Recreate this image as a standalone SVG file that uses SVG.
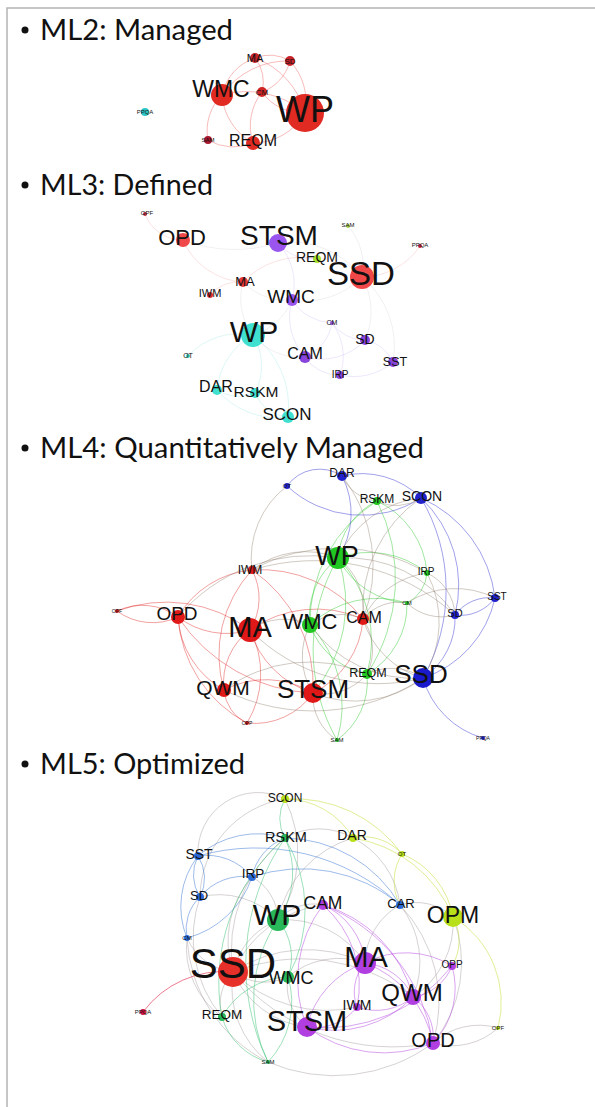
<svg xmlns="http://www.w3.org/2000/svg" width="595" height="1107" viewBox="0 0 595 1107">
<style>
.frame{fill:none;stroke:#b4b4b4;stroke-width:1.5}
.t{font-family:"Lato","Open Sans",sans-serif;font-size:28px;fill:#111}
.l{font-family:"Liberation Sans",Arial,sans-serif;fill:#111;text-anchor:middle}
.e path{fill:none;stroke-width:0.8}
.e2 path{stroke:#f07070;stroke-opacity:.6}
.e3 path{stroke-width:1;stroke-opacity:.22}
.c3r{stroke:#f08080}.c3p{stroke:#b090f0}.c3c{stroke:#60dcd4}.c3x{stroke:#c4b4c8}
.r4{stroke:#e02828;stroke-opacity:.55}.g4{stroke:#28c828;stroke-opacity:.55}.b4{stroke:#2828d0;stroke-opacity:.55}.x4{stroke:#8c7a68;stroke-opacity:.5}
.p5{stroke:#b040e0;stroke-opacity:.6;stroke-width:1.1}.g5{stroke:#30c070;stroke-opacity:.6}.b5{stroke:#3070d0;stroke-opacity:.6}.y5{stroke:#c8e040;stroke-opacity:.7}.x5{stroke:#9c8f90;stroke-opacity:.5}.rd5{stroke:#e03050;stroke-opacity:.8}
</style>

<!-- slide frame -->
<path class="frame" d="M7 1107V8H595"/>

<!-- titles -->
<g id="title-ml2"><circle cx="25" cy="30" r="3.5" fill="#111"/><text class="t" x="40" y="40" textLength="193" lengthAdjust="spacingAndGlyphs">ML2: Managed</text></g>
<g id="title-ml3"><circle cx="25" cy="185" r="3.5" fill="#111"/><text class="t" x="40" y="195" textLength="173" lengthAdjust="spacingAndGlyphs">ML3: Defined</text></g>
<g id="title-ml4"><circle cx="25" cy="448" r="3.5" fill="#111"/><text class="t" x="40" y="458" textLength="384" lengthAdjust="spacingAndGlyphs">ML4: Quantitatively Managed</text></g>
<g id="title-ml5"><circle cx="25" cy="764" r="3.5" fill="#111"/><text class="t" x="40" y="774" textLength="205" lengthAdjust="spacingAndGlyphs">ML5: Optimized</text></g>

<!-- ML2 connectors -->
<g id="edges-ml2" class="e e2">
<path d="M255 58A50 50 0 0 0 222 95"/>
<path d="M255 58A40 40 0 0 1 262 92"/>
<path d="M255 58A80 80 0 0 1 305 113"/>
<path d="M255 58A40 40 0 0 1 290 61"/>
<path d="M290 61A45 45 0 0 1 262 92"/>
<path d="M290 61A60 60 0 0 1 305 113"/>
<path d="M290 61A80 80 0 0 0 222 95"/>
<path d="M262 92A50 50 0 0 0 305 113"/>
<path d="M222 95A50 50 0 0 0 208 140"/>
<path d="M222 95A60 60 0 0 0 253 143"/>
<path d="M262 92A55 55 0 0 0 253 143"/>
<path d="M305 113A60 60 0 0 1 253 143"/>
<path d="M208 140A50 50 0 0 0 253 143"/>
<path d="M222 95A90 90 0 0 1 305 113"/>
</g>

<!-- ML2 nodes -->
<g id="ml2-nodes">
<g id="ml2-ma"><circle cx="255" cy="58" r="5" fill="#c8222a"/><text class="l" x="255" y="62" font-size="11">MA</text></g>
<g id="ml2-sd"><circle cx="290" cy="61" r="5" fill="#c8222a"/><text class="l" x="290" y="64" font-size="8">SD</text></g>
<g id="ml2-wmc"><circle cx="222" cy="95" r="11" fill="#e02a22"/><text class="l" x="221" y="97" font-size="23">WMC</text></g>
<g id="ml2-cm"><circle cx="262" cy="92" r="5" fill="#d02525"/><text class="l" x="262" y="95" font-size="8">CM</text></g>
<g id="ml2-wp"><circle cx="305" cy="113" r="19" fill="#e02a22"/><text class="l" x="305" y="122" font-size="36">WP</text></g>
<g id="ml2-ppqa"><circle cx="145" cy="112" r="4" fill="#2ec4c4"/><text class="l" x="145" y="114" font-size="6">PPQA</text></g>
<g id="ml2-sam"><circle cx="208" cy="140" r="4" fill="#a8182e"/><text class="l" x="208" y="142" font-size="6">SAM</text></g>
<g id="ml2-reqm"><circle cx="253" cy="143" r="7" fill="#e02a22"/><text class="l" x="253" y="146" font-size="16">REQM</text></g>
</g>

<!-- ML3 connectors -->
<g id="edges-ml3" class="e e3">
<path class="c3r" d="M145 214A40 40 0 0 0 183 240"/>
<path class="c3x" d="M183 240A150 150 0 0 0 278 243"/>
<path class="c3r" d="M183 240A70 70 0 0 0 243 282"/>
<path class="c3r" d="M243 282A40 40 0 0 0 210 295"/>
<path class="c3r" d="M243 282A80 80 0 0 1 317 259"/>
<path class="c3x" d="M243 282A60 60 0 0 0 292 300"/>
<path class="c3p" d="M278 243A45 45 0 0 0 317 259"/>
<path class="c3p" d="M278 243A60 60 0 0 1 292 300"/>
<path class="c3x" d="M317 259A50 50 0 0 1 362 277"/>
<path class="c3x" d="M362 277A80 80 0 0 1 292 300"/>
<path class="c3r" d="M362 277A70 70 0 0 0 420 246"/>
<path class="c3x" d="M362 277A60 60 0 0 0 348 226"/>
<path class="c3x" d="M362 277A70 70 0 0 1 365 340"/>
<path class="c3p" d="M292 300A50 50 0 0 0 332 323"/>
<path class="c3x" d="M292 300A60 60 0 0 1 253 335"/>
<path class="c3p" d="M332 323A40 40 0 0 0 365 340"/>
<path class="c3p" d="M332 323A45 45 0 0 1 305 357"/>
<path class="c3p" d="M332 323A55 55 0 0 1 340 375"/>
<path class="c3p" d="M365 340A40 40 0 0 1 393 362"/>
<path class="c3p" d="M340 375A60 60 0 0 0 393 362"/>
<path class="c3p" d="M340 375A40 40 0 0 1 305 357"/>
<path class="c3c" d="M253 335A70 70 0 0 0 217 390"/>
<path class="c3c" d="M253 335A60 60 0 0 1 255 393"/>
<path class="c3c" d="M253 335A90 90 0 0 1 288 417"/>
<path class="c3c" d="M217 390A40 40 0 0 0 255 393"/>
<path class="c3c" d="M255 393A40 40 0 0 0 288 417"/>
<path class="c3c" d="M217 390A80 80 0 0 0 288 417"/>
<path class="c3c" d="M253 335A70 70 0 0 0 188 356"/>
<path class="c3x" d="M253 335A60 60 0 0 0 305 357"/>
<path class="c3x" d="M253 335A60 60 0 0 1 243 282"/>
<path class="c3x" d="M362 277A90 90 0 0 0 278 243"/>
<path class="c3p" d="M365 340A60 60 0 0 1 305 357"/>
<path class="c3p" d="M292 300A60 60 0 0 0 305 357"/>
<path class="c3x" d="M393 362A90 90 0 0 0 362 277"/>
</g>

<!-- ML3 nodes -->
<g id="ml3-nodes">
<g id="ml3-opf"><circle cx="145" cy="214" r="2" fill="#c03040"/><text class="l" x="147" y="215" font-size="6">OPF</text></g>
<g id="ml3-opd"><circle cx="183" cy="240" r="7" fill="#f04848"/><text class="l" x="182" y="245" font-size="22">OPD</text></g>
<g id="ml3-stsm"><circle cx="278" cy="243" r="9" fill="#9a55ee"/><text class="l" x="279" y="245" font-size="28">STSM</text></g>
<g id="ml3-sam"><circle cx="348" cy="226" r="2" fill="#a8d040"/><text class="l" x="348" y="227" font-size="6">SAM</text></g>
<g id="ml3-ppqa"><circle cx="420" cy="246" r="2" fill="#c02040"/><text class="l" x="420" y="247" font-size="6">PPQA</text></g>
<g id="ml3-reqm"><circle cx="317" cy="259" r="4" fill="#a8e030"/><text class="l" x="317" y="262" font-size="14">REQM</text></g>
<g id="ml3-ssd"><circle cx="362" cy="277" r="12" fill="#f04848"/><text class="l" x="361" y="285" font-size="33">SSD</text></g>
<g id="ml3-ma"><circle cx="243" cy="282" r="5" fill="#e83838"/><text class="l" x="245" y="286" font-size="13">MA</text></g>
<g id="ml3-iwm"><circle cx="210" cy="295" r="3" fill="#e03030"/><text class="l" x="210" y="297" font-size="11">IWM</text></g>
<g id="ml3-wmc"><circle cx="292" cy="300" r="6" fill="#9a55ee"/><text class="l" x="291" y="303" font-size="19">WMC</text></g>
<g id="ml3-wp"><circle cx="253" cy="335" r="12" fill="#40e0d0"/><text class="l" x="254" y="342" font-size="30">WP</text></g>
<g id="ml3-cm"><circle cx="332" cy="323" r="2" fill="#9a55ee"/><text class="l" x="332" y="325" font-size="7">CM</text></g>
<g id="ml3-sd"><circle cx="365" cy="340" r="5" fill="#8844dd"/><text class="l" x="365" y="344" font-size="14">SD</text></g>
<g id="ml3-cam"><circle cx="305" cy="357" r="6" fill="#8844dd"/><text class="l" x="305" y="359" font-size="16">CAM</text></g>
<g id="ml3-ot"><circle cx="188" cy="356" r="2" fill="#40d0c0"/><text class="l" x="188" y="358" font-size="7">OT</text></g>
<g id="ml3-sst"><circle cx="393" cy="362" r="5" fill="#8844dd"/><text class="l" x="395" y="366" font-size="12.5">SST</text></g>
<g id="ml3-irp"><circle cx="340" cy="375" r="4" fill="#8844dd"/><text class="l" x="340" y="378" font-size="10">IRP</text></g>
<g id="ml3-dar"><circle cx="217" cy="390" r="5" fill="#40e0d0"/><text class="l" x="216" y="392" font-size="16">DAR</text></g>
<g id="ml3-rskm"><circle cx="255" cy="393" r="5" fill="#40e0d0"/><text class="l" x="256" y="397" font-size="15.5">RSKM</text></g>
<g id="ml3-scon"><circle cx="288" cy="417" r="6" fill="#40e0d0"/><text class="l" x="287" y="420" font-size="17">SCON</text></g>
</g>

<!-- ML4 connectors -->
<g id="edges-ml4" class="e">
<path class="r4" d="M117 611A60 60 0 0 1 178 617"/>
<path class="r4" d="M178 617A60 60 0 0 1 117 611"/>
<path class="r4" d="M117 611A140 140 0 0 1 250 630"/>
<path class="r4" d="M178 617A95 95 0 0 1 252 570"/>
<path class="r4" d="M178 617A80 80 0 0 0 250 630"/>
<path class="r4" d="M178 617A90 90 0 0 0 224 690"/>
<path class="r4" d="M178 617A130 130 0 0 0 247 723"/>
<path class="r4" d="M178 617A170 170 0 0 0 313 693"/>
<path class="r4" d="M252 570A60 60 0 0 1 250 630"/>
<path class="r4" d="M252 570A125 125 0 0 0 224 690"/>
<path class="r4" d="M252 570A130 130 0 0 1 363 619"/>
<path class="r4" d="M250 630A65 65 0 0 0 224 690"/>
<path class="r4" d="M250 630A95 95 0 0 0 313 693"/>
<path class="r4" d="M250 630A115 115 0 0 1 363 619"/>
<path class="r4" d="M250 630A95 95 0 0 1 247 723"/>
<path class="r4" d="M224 690A90 90 0 0 1 313 693"/>
<path class="r4" d="M224 690A40 40 0 0 0 247 723"/>
<path class="r4" d="M313 693A90 90 0 0 0 363 619"/>
<path class="r4" d="M252 570A140 140 0 0 1 313 693"/>
<path class="r4" d="M247 723A71 71 0 0 0 313 693"/>
<path class="g4" d="M377 501A69 69 0 0 0 338 558"/>
<path class="g4" d="M377 501A144 144 0 0 0 310 625"/>
<path class="g4" d="M377 501A173 173 0 0 1 367 674"/>
<path class="g4" d="M338 558A73 73 0 0 0 310 625"/>
<path class="g4" d="M338 558A91 91 0 0 1 427 573"/>
<path class="g4" d="M338 558A83 83 0 0 0 407 603"/>
<path class="g4" d="M338 558A120 120 0 0 1 367 674"/>
<path class="g4" d="M338 558A182 182 0 0 0 337 740"/>
<path class="g4" d="M310 625A76 76 0 0 0 367 674"/>
<path class="g4" d="M310 625A117 117 0 0 1 337 740"/>
<path class="g4" d="M427 573A36 36 0 0 1 407 603"/>
<path class="g4" d="M407 603A80 80 0 0 1 367 674"/>
<path class="g4" d="M367 674A72 72 0 0 1 337 740"/>
<path class="g4" d="M310 625A98 98 0 0 1 407 603"/>
<path class="g4" d="M377 501A87 87 0 0 1 427 573"/>
<path class="g4" d="M338 558A138 138 0 0 1 313 693"/>
<path class="b4" d="M287 486A40 40 0 0 1 342 476"/>
<path class="b4" d="M287 486A110 110 0 0 0 421 498"/>
<path class="b4" d="M342 476A84 84 0 0 1 421 498"/>
<path class="b4" d="M421 498A120 120 0 0 1 455 615"/>
<path class="b4" d="M421 498A180 180 0 0 1 423 678"/>
<path class="b4" d="M455 615A43 43 0 0 1 495 598"/>
<path class="b4" d="M495 598A43 43 0 0 1 455 615"/>
<path class="b4" d="M455 615A72 72 0 0 1 423 678"/>
<path class="b4" d="M495 598A108 108 0 0 1 423 678"/>
<path class="b4" d="M423 678A87 87 0 0 0 483 738"/>
<path class="b4" d="M342 476A82 82 0 0 1 338 558"/>
<path class="b4" d="M421 498A125 125 0 0 1 495 598"/>
<path class="x4" d="M287 486A91 91 0 0 0 252 570"/>
<path class="x4" d="M342 476A43 43 0 0 0 377 501"/>
<path class="x4" d="M377 501A44 44 0 0 0 421 498"/>
<path class="x4" d="M421 498A134 134 0 0 0 363 619"/>
<path class="x4" d="M178 617A172 172 0 0 1 338 558"/>
<path class="x4" d="M252 570A87 87 0 0 1 338 558"/>
<path class="x4" d="M252 570A210 210 0 0 1 455 615"/>
<path class="x4" d="M252 570A175 175 0 0 1 427 573"/>
<path class="x4" d="M250 630A60 60 0 0 1 310 625"/>
<path class="x4" d="M250 630A180 180 0 0 0 423 678"/>
<path class="x4" d="M310 625A53 53 0 0 1 363 619"/>
<path class="x4" d="M310 625A68 68 0 0 0 313 693"/>
<path class="x4" d="M310 625A127 127 0 0 0 423 678"/>
<path class="x4" d="M338 558A65 65 0 0 1 363 619"/>
<path class="x4" d="M338 558A131 131 0 0 1 455 615"/>
<path class="x4" d="M363 619A46 46 0 0 1 407 603"/>
<path class="x4" d="M363 619A83 83 0 0 1 427 573"/>
<path class="x4" d="M363 619A87 87 0 0 0 423 678"/>
<path class="x4" d="M363 619A55 55 0 0 1 367 674"/>
<path class="x4" d="M427 573A49 49 0 0 1 455 615"/>
<path class="x4" d="M427 573A105 105 0 0 1 423 678"/>
<path class="x4" d="M407 603A50 50 0 0 0 455 615"/>
<path class="x4" d="M407 603A88 88 0 0 1 495 598"/>
<path class="x4" d="M367 674A56 56 0 0 1 423 678"/>
<path class="x4" d="M367 674A57 57 0 0 1 313 693"/>
<path class="x4" d="M367 674A144 144 0 0 0 224 690"/>
<path class="x4" d="M423 678A112 112 0 0 1 313 693"/>
<path class="x4" d="M423 678A200 200 0 0 1 224 690"/>
<path class="x4" d="M313 693A52 52 0 0 0 337 740"/>
<path class="x4" d="M421 498A102 102 0 0 0 338 558"/>
<path class="x4" d="M342 476A145 145 0 0 1 363 619"/>
</g>

<!-- ML4 nodes -->
<g id="ml4-nodes">
<g id="ml4-ot"><circle cx="287" cy="486" r="3" fill="#2222cc"/><text class="l" x="287" y="488" font-size="6">OT</text></g>
<g id="ml4-dar"><circle cx="342" cy="476" r="5" fill="#2222cc"/><text class="l" x="342" y="477" font-size="12">DAR</text></g>
<g id="ml4-rskm"><circle cx="377" cy="501" r="4" fill="#22c822"/><text class="l" x="377" y="503" font-size="12">RSKM</text></g>
<g id="ml4-scon"><circle cx="421" cy="498" r="6" fill="#2222cc"/><text class="l" x="422" y="501" font-size="14">SCON</text></g>
<g id="ml4-wp"><circle cx="338" cy="558" r="11" fill="#22c822"/><text class="l" x="337" y="565" font-size="27">WP</text></g>
<g id="ml4-iwm"><circle cx="252" cy="570" r="4" fill="#e01818"/><text class="l" x="250" y="574" font-size="12">IWM</text></g>
<g id="ml4-irp"><circle cx="427" cy="573" r="3" fill="#22c822"/><text class="l" x="426" y="575" font-size="10">IRP</text></g>
<g id="ml4-sst"><circle cx="495" cy="598" r="4" fill="#2222cc"/><text class="l" x="497" y="600" font-size="10">SST</text></g>
<g id="ml4-cm"><circle cx="407" cy="603" r="2" fill="#22c822"/><text class="l" x="407" y="605" font-size="6">CM</text></g>
<g id="ml4-sd"><circle cx="455" cy="615" r="4" fill="#2222cc"/><text class="l" x="455" y="617" font-size="11">SD</text></g>
<g id="ml4-opf"><circle cx="117" cy="611" r="2" fill="#e01818"/><text class="l" x="117" y="613" font-size="5">OPF</text></g>
<g id="ml4-opd"><circle cx="178" cy="617" r="7" fill="#e01818"/><text class="l" x="177" y="620" font-size="19">OPD</text></g>
<g id="ml4-ma"><circle cx="250" cy="630" r="12" fill="#e01818"/><text class="l" x="250" y="637" font-size="29">MA</text></g>
<g id="ml4-wmc"><circle cx="310" cy="625" r="8" fill="#22c822"/><text class="l" x="310" y="629" font-size="22">WMC</text></g>
<g id="ml4-cam"><circle cx="363" cy="619" r="6" fill="#e01818"/><text class="l" x="364" y="623" font-size="16">CAM</text></g>
<g id="ml4-reqm"><circle cx="367" cy="674" r="5" fill="#22c822"/><text class="l" x="368" y="677" font-size="12.5">REQM</text></g>
<g id="ml4-ssd"><circle cx="423" cy="678" r="10" fill="#1a1acc"/><text class="l" x="421" y="683" font-size="26">SSD</text></g>
<g id="ml4-qwm"><circle cx="224" cy="690" r="7" fill="#e01818"/><text class="l" x="223" y="695" font-size="21">QWM</text></g>
<g id="ml4-stsm"><circle cx="313" cy="693" r="10" fill="#e01818"/><text class="l" x="313" y="698" font-size="26">STSM</text></g>
<g id="ml4-opp"><circle cx="247" cy="723" r="2" fill="#e01818"/><text class="l" x="247" y="725" font-size="5">OPP</text></g>
<g id="ml4-sam"><circle cx="337" cy="740" r="2" fill="#22c822"/><text class="l" x="337" y="742" font-size="6">SAM</text></g>
<g id="ml4-ppqa"><circle cx="483" cy="738" r="2" fill="#2222cc"/><text class="l" x="483" y="740" font-size="5">PPQA</text></g>
</g>

<!-- ML5 connectors -->
<g id="edges-ml5" class="e">
<path class="x5" d="M285 799A60 60 0 0 0 198 856"/>
<path class="x5" d="M285 799A100 100 0 0 0 200 897"/>
<path class="x5" d="M285 799A122 122 0 0 1 278 920"/>
<path class="x5" d="M285 838A68 68 0 0 1 353 838"/>
<path class="x5" d="M285 838A144 144 0 0 0 233 972"/>
<path class="x5" d="M353 838A87 87 0 0 1 400 905"/>
<path class="x5" d="M353 838A107 107 0 0 0 278 920"/>
<path class="x5" d="M200 897A81 81 0 0 1 278 920"/>
<path class="x5" d="M252 877A50 50 0 0 1 278 920"/>
<path class="x5" d="M252 877A98 98 0 0 0 233 972"/>
<path class="x5" d="M187 938A58 58 0 0 0 233 972"/>
<path class="x5" d="M187 938A85 85 0 0 0 222 1017"/>
<path class="x5" d="M278 920A47 47 0 0 1 323 905"/>
<path class="x5" d="M278 920A73 73 0 0 0 233 972"/>
<path class="x5" d="M278 920A94 94 0 0 1 365 963"/>
<path class="x5" d="M323 905A114 114 0 0 0 233 972"/>
<path class="x5" d="M400 905A54 54 0 0 1 453 917"/>
<path class="x5" d="M400 905A68 68 0 0 0 365 963"/>
<path class="x5" d="M400 905A92 92 0 0 1 413 997"/>
<path class="x5" d="M400 905A141 141 0 0 1 433 1043"/>
<path class="x5" d="M453 917A89 89 0 0 1 413 997"/>
<path class="x5" d="M453 917A127 127 0 0 1 433 1043"/>
<path class="x5" d="M233 972A55 55 0 0 0 288 977"/>
<path class="x5" d="M233 972A92 92 0 0 0 307 1027"/>
<path class="x5" d="M233 972A46 46 0 0 0 222 1017"/>
<path class="x5" d="M233 972A133 133 0 0 1 365 963"/>
<path class="x5" d="M233 972A183 183 0 0 1 413 997"/>
<path class="x5" d="M233 972A96 96 0 0 0 268 1062"/>
<path class="x5" d="M233 972A208 208 0 0 0 433 1043"/>
<path class="x5" d="M288 977A78 78 0 0 1 365 963"/>
<path class="x5" d="M288 977A52 52 0 0 0 307 1027"/>
<path class="x5" d="M268 1062A166 166 0 0 0 433 1043"/>
<path class="x5" d="M200 897A124 124 0 0 0 222 1017"/>
<path class="x5" d="M233 972A134 134 0 0 0 357 1007"/>
<path class="x5" d="M187 938A147 147 0 0 0 268 1062"/>
<path class="x5" d="M433 1043A68 68 0 0 1 498 1028"/>
<path class="x5" d="M498 1028A68 68 0 0 1 433 1043"/>
<path class="y5" d="M285 799A134 134 0 0 1 402 854"/>
<path class="y5" d="M285 799A79 79 0 0 1 353 838"/>
<path class="y5" d="M353 838A51 51 0 0 1 402 854"/>
<path class="y5" d="M402 854A84 84 0 0 1 453 917"/>
<path class="y5" d="M453 917A100 100 0 0 1 498 1028"/>
<path class="y5" d="M453 917A49 49 0 0 1 452 966"/>
<path class="y5" d="M353 838A130 130 0 0 1 453 917"/>
<path class="y5" d="M402 854A51 51 0 0 0 400 905"/>
<path class="b5" d="M198 856A41 41 0 0 1 200 897"/>
<path class="b5" d="M200 897A41 41 0 0 1 198 856"/>
<path class="b5" d="M198 856A58 58 0 0 1 252 877"/>
<path class="b5" d="M198 856A211 211 0 0 1 400 905"/>
<path class="b5" d="M200 897A56 56 0 0 1 252 877"/>
<path class="b5" d="M200 897A44 44 0 0 0 187 938"/>
<path class="b5" d="M252 877A152 152 0 0 1 400 905"/>
<path class="b5" d="M252 877A94 94 0 0 1 187 938"/>
<path class="b5" d="M198 856A83 83 0 0 0 187 938"/>
<path class="b5" d="M285 838A91 91 0 0 0 198 856"/>
<path class="b5" d="M285 838A53 53 0 0 0 252 877"/>
<path class="b5" d="M285 838A135 135 0 0 1 400 905"/>
<path class="g5" d="M285 799A39 39 0 0 0 285 838"/>
<path class="g5" d="M285 838A83 83 0 0 1 278 920"/>
<path class="g5" d="M285 838A190 190 0 0 0 222 1017"/>
<path class="g5" d="M285 838A139 139 0 0 1 288 977"/>
<path class="g5" d="M278 920A58 58 0 0 1 288 977"/>
<path class="g5" d="M278 920A142 142 0 0 0 268 1062"/>
<path class="g5" d="M288 977A78 78 0 0 0 222 1017"/>
<path class="g5" d="M222 1017A66 66 0 0 0 268 1062"/>
<path class="g5" d="M288 977A87 87 0 0 1 268 1062"/>
<path class="g5" d="M285 838A224 224 0 0 0 268 1062"/>
<path class="p5" d="M365 963A59 59 0 0 1 413 997"/>
<path class="p5" d="M365 963A87 87 0 0 1 452 966"/>
<path class="p5" d="M365 963A44 44 0 0 0 357 1007"/>
<path class="p5" d="M365 963A88 88 0 0 0 307 1027"/>
<path class="p5" d="M365 963A108 108 0 0 1 433 1043"/>
<path class="p5" d="M365 963A70 70 0 0 0 323 905"/>
<path class="p5" d="M413 997A50 50 0 0 0 452 966"/>
<path class="p5" d="M413 997A57 57 0 0 1 357 1007"/>
<path class="p5" d="M413 997A110 110 0 0 1 307 1027"/>
<path class="p5" d="M413 997A50 50 0 0 1 433 1043"/>
<path class="p5" d="M357 1007A53 53 0 0 1 307 1027"/>
<path class="p5" d="M307 1027A127 127 0 0 0 433 1043"/>
<path class="p5" d="M433 1043A79 79 0 0 0 452 966"/>
<path class="p5" d="M323 905A130 130 0 0 1 413 997"/>
<path class="p5" d="M323 905A176 176 0 0 1 433 1043"/>
<path class="p5" d="M323 905A106 106 0 0 1 357 1007"/>
<path class="p5" d="M307 1027A162 162 0 0 0 452 966"/>
<path class="p5" d="M323 905A123 123 0 0 0 307 1027"/>
<path class="rd5" d="M233 972A100 100 0 0 0 143 1012"/>
</g>

<!-- ML5 nodes -->
<g id="ml5-nodes">
<g id="ml5-scon"><circle cx="285" cy="799" r="4" fill="#b8e01a"/><text class="l" x="285" y="802" font-size="12">SCON</text></g>
<g id="ml5-rskm"><circle cx="285" cy="838" r="4" fill="#28b85a"/><text class="l" x="286" y="842" font-size="14.5">RSKM</text></g>
<g id="ml5-dar"><circle cx="353" cy="838" r="4" fill="#b8e01a"/><text class="l" x="352" y="840" font-size="14">DAR</text></g>
<g id="ml5-sst"><circle cx="198" cy="856" r="4" fill="#2a6ad8"/><text class="l" x="199" y="859" font-size="14">SST</text></g>
<g id="ml5-ot"><circle cx="402" cy="854" r="3" fill="#b8e01a"/><text class="l" x="402" y="856" font-size="6">OT</text></g>
<g id="ml5-irp"><circle cx="252" cy="877" r="4" fill="#2a6ad8"/><text class="l" x="253" y="878" font-size="13.5">IRP</text></g>
<g id="ml5-sd"><circle cx="200" cy="897" r="4" fill="#2a6ad8"/><text class="l" x="199" y="900" font-size="13">SD</text></g>
<g id="ml5-cam"><circle cx="323" cy="905" r="5" fill="#b03ee0"/><text class="l" x="323" y="909" font-size="17.5">CAM</text></g>
<g id="ml5-car"><circle cx="400" cy="905" r="4" fill="#2a6ad8"/><text class="l" x="401" y="908" font-size="13">CAR</text></g>
<g id="ml5-wp"><circle cx="278" cy="920" r="11" fill="#28b85a"/><text class="l" x="277" y="925" font-size="30">WP</text></g>
<g id="ml5-opm"><circle cx="453" cy="917" r="10" fill="#b8e01a"/><text class="l" x="453" y="923" font-size="23">OPM</text></g>
<g id="ml5-cm"><circle cx="187" cy="938" r="3" fill="#2a6ad8"/><text class="l" x="187" y="940" font-size="6">CM</text></g>
<g id="ml5-ssd"><circle cx="233" cy="972" r="15" fill="#e8302a"/><text class="l" x="233" y="978" font-size="42">SSD</text></g>
<g id="ml5-wmc"><circle cx="288" cy="977" r="6" fill="#28b85a"/><text class="l" x="291" y="984" font-size="18">WMC</text></g>
<g id="ml5-ma"><circle cx="365" cy="963" r="11" fill="#b03ee0"/><text class="l" x="366" y="967" font-size="29">MA</text></g>
<g id="ml5-opp"><circle cx="452" cy="966" r="4" fill="#b03ee0"/><text class="l" x="452" y="968" font-size="10">OPP</text></g>
<g id="ml5-qwm"><circle cx="413" cy="997" r="8" fill="#b03ee0"/><text class="l" x="412" y="1001" font-size="24">QWM</text></g>
<g id="ml5-iwm"><circle cx="357" cy="1007" r="4" fill="#b03ee0"/><text class="l" x="357" y="1010" font-size="14">IWM</text></g>
<g id="ml5-ppqa"><circle cx="143" cy="1012" r="3" fill="#d01040"/><text class="l" x="143" y="1014" font-size="6">PPQA</text></g>
<g id="ml5-reqm"><circle cx="222" cy="1017" r="4" fill="#28b85a"/><text class="l" x="222" y="1019" font-size="13.5">REQM</text></g>
<g id="ml5-stsm"><circle cx="307" cy="1027" r="10" fill="#b03ee0"/><text class="l" x="307" y="1031" font-size="29">STSM</text></g>
<g id="ml5-opd"><circle cx="433" cy="1043" r="7" fill="#b03ee0"/><text class="l" x="433" y="1047" font-size="20">OPD</text></g>
<g id="ml5-opf"><circle cx="498" cy="1028" r="2" fill="#b8e01a"/><text class="l" x="498" y="1030" font-size="6">OPF</text></g>
<g id="ml5-sam"><circle cx="268" cy="1062" r="2" fill="#28b85a"/><text class="l" x="268" y="1064" font-size="6">SAM</text></g>
</g>
</svg>
